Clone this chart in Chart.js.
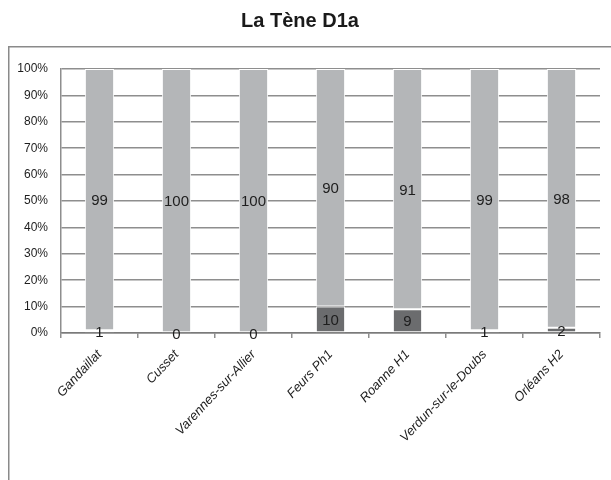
<!DOCTYPE html>
<html>
<head>
<meta charset="utf-8">
<script src="https://cdn.jsdelivr.net/npm/chart.js@4/dist/chart.umd.min.js"></script>
<style>
  html, body { margin: 0; padding: 0; background: #fff; }
  #wrap { width: 611px; height: 480px; position: relative; }
</style>
</head>
<body>
<div id="wrap"><canvas id="c" width="611" height="480"></canvas></div>
<script>
// data
var sites = ["Gandaillat", "Cusset", "Varennes-sur-Allier", "Feurs Ph1", "Roanne H1", "Verdun-sur-le-Doubs", "Orléans H2"];
var lowPart = [1, 0, 0, 10, 9, 1, 2];
var highPart = [99, 100, 100, 90, 91, 99, 98];
var yTicks = [0, 10, 20, 30, 40, 50, 60, 70, 80, 90, 100];

var GRID = '#8e8e8e';
var TEXT = '#1e1e1e';

// frame round the whole chart (only left and top are visible)
var framePlugin = {
    id: 'frame',
    beforeDraw: function (chart) {
        var ctx = chart.ctx;
        ctx.save();
        ctx.strokeStyle = '#8a8a8a';
        ctx.lineWidth = 1.5;
        ctx.strokeRect(8.75, 46.75, 640, 480);
        ctx.restore();
    }
};

// numbers written in the middle of each segment
var valuePlugin = {
    id: 'values',
    afterDatasetsDraw: function (chart) {
        var ctx = chart.ctx;
        ctx.save();
        ctx.font = '15px "Liberation Sans Narrow", "Liberation Sans", Arial, sans-serif';
        ctx.fillStyle = TEXT;
        ctx.textAlign = 'center';
        ctx.textBaseline = 'middle';
        chart.data.datasets.forEach(function (ds, i) {
            chart.getDatasetMeta(i).data.forEach(function (bar, j) {
                var p = bar.getProps(['x', 'y', 'base'], true);
                ctx.fillText(String(ds.data[j]), p.x, (p.y + p.base) / 2 + 1.5);
            });
        });
        ctx.restore();
    }
};

Chart.defaults.font.family = '"Liberation Sans", Arial, sans-serif';
Chart.defaults.color = TEXT;

new Chart(document.getElementById('c'), {
    type: 'bar',
    data: {
        labels: sites,
        datasets: [{
            label: 'low',
            data: lowPart,
            backgroundColor: '#6b6c6e',
            borderColor: '#ffffff',
            borderWidth: 1,
            borderSkipped: false
        }, {
            label: 'high',
            data: highPart,
            backgroundColor: '#b4b6b8',
            borderColor: '#ffffff',
            borderWidth: 1,
            borderSkipped: false
        }]
    },
    options: {
        responsive: false,
        animation: false,
        events: [],
        layout: { padding: { left: 0, right: 11, top: 0, bottom: 0 } },
        datasets: { bar: { categoryPercentage: 1, barPercentage: 0.38 } },
        plugins: {
            legend: { display: false },
            tooltip: { enabled: false },
            title: {
                display: true,
                text: 'La Tène D1a',
                font: { size: 20, weight: 'bold' },
                color: '#1a1a1a',
                padding: { top: 9, bottom: 36 }
            }
        },
        scales: {
            x: {
                stacked: true,
                grid: { display: true, drawOnChartArea: false, drawTicks: true, tickLength: 5, color: GRID, lineWidth: 1.5, offset: true },
                border: { display: true, color: '#7a7a7a', width: 1.5 },
                ticks: { minRotation: 47, maxRotation: 47, padding: 9, font: { size: 13, style: 'italic' }, color: TEXT },
                afterFit: function (s) { s.height = 147; }
            },
            y: {
                stacked: true,
                min: 0,
                max: 100,
                afterBuildTicks: function (s) { s.ticks = yTicks.map(function (v) { return { value: v }; }); },
                grid: { color: GRID, lineWidth: 1.5, drawTicks: false },
                border: { display: true, color: GRID, width: 1.5 },
                ticks: {
                    padding: 13,
                    font: { size: 12 },
                    color: TEXT,
                    callback: function (v) { return v + '%'; }
                },
                afterFit: function (s) { s.width = 61; }
            }
        }
    },
    plugins: [framePlugin, valuePlugin]
});
</script>
</body>
</html>
